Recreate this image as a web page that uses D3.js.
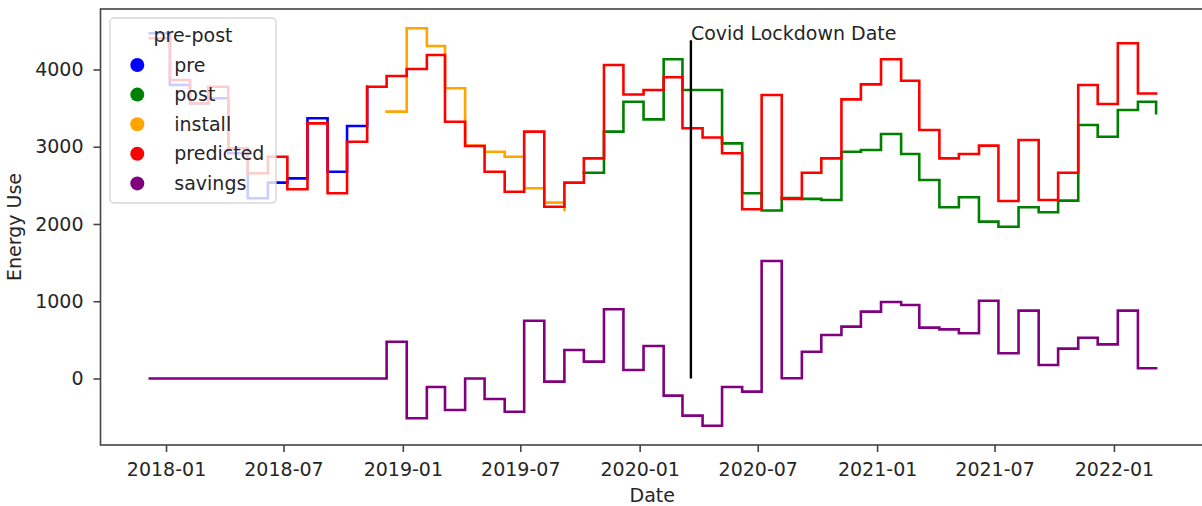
<!DOCTYPE html>
<html>
<head>
<meta charset="utf-8">
<script src="https://cdn.jsdelivr.net/npm/d3@7"></script>
<style>
  body { margin: 0; background: #fff; }
  svg text { font-family: "DejaVu Sans", sans-serif; fill: #262626; }
</style>
</head>
<body>
<svg id="chart" width="1202" height="506"></svg>
<script>
// Monthly readings (one per month)
const months = [
  "2017-12",
  "2018-01","2018-02","2018-03","2018-04","2018-05","2018-06",
  "2018-07","2018-08","2018-09","2018-10","2018-11","2018-12",
  "2019-01","2019-02","2019-03","2019-04","2019-05","2019-06",
  "2019-07","2019-08","2019-09","2019-10","2019-11","2019-12",
  "2020-01","2020-02","2020-03","2020-04","2020-05","2020-06",
  "2020-07","2020-08","2020-09","2020-10","2020-11","2020-12",
  "2021-01","2021-02","2021-03","2021-04","2021-05","2021-06",
  "2021-07","2021-08","2021-09","2021-10","2021-11","2021-12",
  "2022-01","2022-02","2022-03"
];

const preValues = [
  4470, 3800, 3560, 3627, 2915, 2333, 2535, 2590, 3368, 2677, 3268, 3777,
  null, null, null, null, null, null, null, null, null, null,
  null, null, null, null, null, null, null, null, null, null,
  null, null, null, null, null, null, null, null, null, null,
  null, null, null, null, null, null, null, null, null, null
];

const postValues = [
  null, null, null, null, null, null, null, null, null, null, null, null,
  null, null, null, null, null, null, null, null, null, null,
  2664, 3195, 3583, 3354, 4132, 3735, 3735, 3044, 2397, 2175,
  2335, 2325, 2311, 2936, 2958, 3165, 2906, 2570, 2216, 2346,
  2030, 1965, 2216, 2151, 2302, 3282, 3130, 3476, 3583, 3433
];

const installValues = [
  null, null, null, null, null, null, null, null, null, null, null, null,
  3454, 4533, 4304, 3757, 3014, 2936, 2871, 2462, 2276, 2181,
  null, null, null, null, null, null, null, null, null, null,
  null, null, null, null, null, null, null, null, null, null,
  null, null, null, null, null, null, null, null, null, null
];

const predictedValues = [
  4404, 3864, 3562, 3777, 2980, 2656, 2870, 2450, 3303, 2397, 3065, 3777,
  3916, 4006, 4188, 3324, 3010, 2677, 2418, 3195, 2224, 2535,
  2850, 4058, 3677, 3735, 3899, 3240, 3119, 2916, 2190, 3670,
  2324, 2664, 2850, 3613, 3807, 4132, 3855, 3217, 2850, 2906,
  3014, 2298, 3087, 2311, 2664, 3799, 3553, 4339, 3690, 3690
];

const savingsValues = [
  0, 0, 0, 0, 0, 0, 0, 0, 0, 0, 0, 0,
  476, -515, -110, -408, 0, -265, -430, 748, -41, 369,
  218, 896, 110, 421, -222, -481, -611, -110, -170, 1521,
  3, 347, 563, 671, 865, 990, 951, 658, 636, 585,
  1007, 326, 878, 175, 386, 528, 442, 878, 132, 132
];

const seriesNames = ["pre", "post", "install", "predicted", "savings"];
const seriesColors = ["blue", "green", "orange", "red", "purple"];
const seriesValues = [preValues, postValues, installValues, predictedValues, savingsValues];

const lockdownDate = "2020-03-20";
const lockdownTop = 4380;
const xTicks = ["2018-01","2018-07","2019-01","2019-07","2020-01","2020-07","2021-01","2021-07","2022-01"];
const yTicks = [0, 1000, 2000, 3000, 4000];
const xDomain = ["2017-09-22", "2022-05-26"];
const yDomain = [-861, 4783];

const parseDay = d3.utcParse("%Y-%m-%d");
const readDate = m => parseDay(m + "-07");

const svg = d3.select("#chart");

// Plot area
const plot = { left: 100.5, right: 1208, top: 9, bottom: 445 };

const x = d3.scaleUtc()
  .domain(xDomain.map(parseDay))
  .range([plot.left, plot.right]);

const y = d3.scaleLinear()
  .domain(yDomain)
  .range([plot.bottom, plot.top]);

// Step lines (matplotlib steps-post)
const line = d3.line()
  .defined(d => d.v != null)
  .x(d => x(d.date))
  .y(d => y(d.v))
  .curve(d3.curveStepAfter);

const linesLayer = svg.append("g").attr("class", "lines");

seriesValues.forEach((vals, i) => {
  const pts = months.map((m, j) => ({ date: readDate(m), v: vals[j] }));
  linesLayer.append("path")
    .attr("d", line(pts))
    .attr("fill", "none")
    .attr("stroke", seriesColors[i])
    .attr("stroke-width", 2.6)
    .attr("stroke-linejoin", "miter")
    .attr("stroke-linecap", "square");
});

// Lockdown line and label
const lx = x(parseDay(lockdownDate));
svg.append("line")
  .attr("x1", lx).attr("x2", lx)
  .attr("y1", y(0)).attr("y2", y(lockdownTop))
  .attr("stroke", "black")
  .attr("stroke-width", 2.4);

svg.append("text")
  .attr("x", lx)
  .attr("y", y(lockdownTop))
  .attr("font-size", 19)
  .text("Covid Lockdown Date");

// Axes
const xAxis = d3.axisBottom(x)
  .tickValues(xTicks.map(t => parseDay(t + "-01")))
  .tickFormat(d3.utcFormat("%Y-%m"))
  .tickSize(7)
  .tickPadding(10.5);

const yAxis = d3.axisLeft(y)
  .tickValues(yTicks)
  .tickFormat(d3.format("d"))
  .tickSize(7)
  .tickPadding(10);

const gx = svg.append("g")
  .attr("transform", `translate(0,${plot.bottom})`)
  .call(xAxis);

const gy = svg.append("g")
  .attr("transform", `translate(${plot.left},0)`)
  .call(yAxis);

[gx, gy].forEach(g => {
  g.select(".domain").remove();
  g.selectAll(".tick line").attr("stroke", "#444").attr("stroke-width", 1.6);
  g.selectAll(".tick text")
    .attr("font-size", 19)
    .attr("font-family", "DejaVu Sans")
    .attr("fill", "#262626");
});

// Frame
svg.append("rect")
  .attr("x", plot.left)
  .attr("y", plot.top)
  .attr("width", plot.right - plot.left)
  .attr("height", plot.bottom - plot.top)
  .attr("fill", "none")
  .attr("stroke", "#444")
  .attr("stroke-width", 1.6);

// Axis labels
svg.append("text")
  .attr("x", (plot.left + plot.right) / 2 - 2)
  .attr("y", 502)
  .attr("text-anchor", "middle")
  .attr("font-size", 19)
  .text("Date");

svg.append("text")
  .attr("transform", `translate(20.5,${(plot.top + plot.bottom) / 2}) rotate(-90)`)
  .attr("text-anchor", "middle")
  .attr("font-size", 19)
  .text("Energy Use");

// Legend
const legend = svg.append("g").attr("class", "legend");

legend.append("rect")
  .attr("x", 110).attr("y", 18)
  .attr("width", 166).attr("height", 185)
  .attr("rx", 4)
  .attr("fill", "white")
  .attr("fill-opacity", 0.8)
  .attr("stroke", "#cccccc")
  .attr("stroke-opacity", 0.8)
  .attr("stroke-width", 1.4);

legend.append("text")
  .attr("x", 193)
  .attr("y", 35)
  .attr("dy", "0.35em")
  .attr("text-anchor", "middle")
  .attr("font-size", 19)
  .text("pre-post");

const rows = legend.selectAll(".row")
  .data(seriesNames)
  .enter()
  .append("g")
  .attr("class", "row")
  .attr("transform", (d, i) => `translate(137.3,${65 + i * 29.6})`);

rows.append("circle")
  .attr("r", 7)
  .attr("fill", (d, i) => seriesColors[i]);

rows.append("text")
  .attr("x", 37)
  .attr("dy", "0.35em")
  .attr("font-size", 19)
  .text(d => d);
</script>
</body>
</html>
